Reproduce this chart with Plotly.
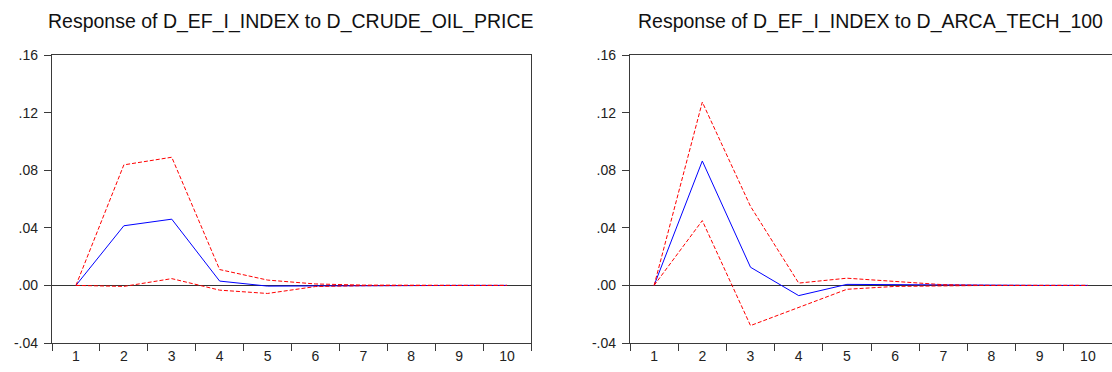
import plotly.graph_objects as go

# Impulse-response horizon (periods)
periods = ["1", "2", "3", "4", "5", "6", "7", "8", "9", "10"]

# Response of D_EF_I_INDEX to D_CRUDE_OIL_PRICE
oil_resp = [0.0, 0.0414, 0.0460, 0.0030, -0.0005, -0.0003, 0.0, 0.0, 0.0, 0.0]
oil_upper = [0.0, 0.0837, 0.0890, 0.0110, 0.0037, 0.0010, 0.0002, 0.0, 0.0, 0.0]
oil_lower = [0.0, -0.0007, 0.0047, -0.0033, -0.0056, -0.0008, -0.0002, 0.0, 0.0, 0.0]

# Response of D_EF_I_INDEX to D_ARCA_TECH_100
tech_resp = [0.0, 0.0864, 0.0126, -0.0071, 0.0007, 0.0005, 0.0, 0.0, 0.0, 0.0]
tech_upper = [0.0, 0.1273, 0.0549, 0.0016, 0.0050, 0.0025, 0.0005, 0.0, 0.0, 0.0]
tech_lower = [0.0, 0.0450, -0.0279, -0.0155, -0.0027, -0.0007, -0.0002, 0.0, 0.0, 0.0]

titles = ["Response of D_EF_I_INDEX to D_CRUDE_OIL_PRICE",
          "Response of D_EF_I_INDEX to D_ARCA_TECH_100"]

y_ticks = [-0.04, 0.0, 0.04, 0.08, 0.12, 0.16]
y_tick_text = ["-.04", ".00", ".04", ".08", ".12", ".16"]

W, H = 1112, 372
FONT = "Liberation Sans, Arial, sans-serif"
AXIS_COLOR = "#3a3a3a"

fig = go.Figure()

panels = [
    (oil_resp, oil_upper, oil_lower, "x", "y"),
    (tech_resp, tech_upper, tech_lower, "x2", "y2"),
]
for resp, upper, lower, xa, ya in panels:
    fig.add_trace(go.Scatter(x=periods, y=resp, mode="lines", xaxis=xa, yaxis=ya,
                             line=dict(color="#0000ff", width=1), showlegend=False))
    for band in (upper, lower):
        fig.add_trace(go.Scatter(x=periods, y=band, mode="lines", xaxis=xa, yaxis=ya,
                                 line=dict(color="#ff0000", width=1, dash="4px,2px"),
                                 showlegend=False))

x_domains = [(52 / W, 531 / W), (630 / W, 1.0)]
y_domain = [(H - 343) / H, (H - 55) / H]

common_x = dict(type="category", tickson="boundaries", ticks="outside", ticklen=7,
                tickcolor=AXIS_COLOR, tickwidth=1, showline=True, linecolor=AXIS_COLOR,
                linewidth=1.3, mirror=True, showgrid=False, zeroline=False,
                tickfont=dict(family=FONT, size=14, color="#222222"),
                range=[-0.5, 9.5], fixedrange=True)
common_y = dict(range=[-0.04, 0.16], tickvals=y_ticks, ticktext=y_tick_text,
                ticks="outside", ticklen=7, tickcolor=AXIS_COLOR, tickwidth=1,
                showline=True, linecolor=AXIS_COLOR, linewidth=1.3, mirror=True,
                showgrid=False, zeroline=True, zerolinecolor="#333333", zerolinewidth=1,
                tickfont=dict(family=FONT, size=14, color="#222222"),
                ticklabelstandoff=3, domain=y_domain, fixedrange=True)

title_font = dict(family=FONT, size=19.5, color="#111111")

fig.update_layout(
    width=W, height=H,
    margin=dict(l=0, r=0, t=0, b=0, autoexpand=False),
    paper_bgcolor="white", plot_bgcolor="white",
    xaxis=dict(common_x, domain=x_domains[0], anchor="y"),
    yaxis=dict(common_y, anchor="x"),
    xaxis2=dict(common_x, domain=x_domains[1], anchor="y2"),
    yaxis2=dict(common_y, anchor="x2"),
    annotations=[
        dict(text=titles[0], x=291 / W, y=(H - 22) / H, xref="paper", yref="paper",
             xanchor="center", yanchor="middle", showarrow=False, font=title_font),
        dict(text=titles[1], x=870 / W, y=(H - 22) / H, xref="paper", yref="paper",
             xanchor="center", yanchor="middle", showarrow=False, font=title_font),
    ],
)

fig.write_html("out.html")
